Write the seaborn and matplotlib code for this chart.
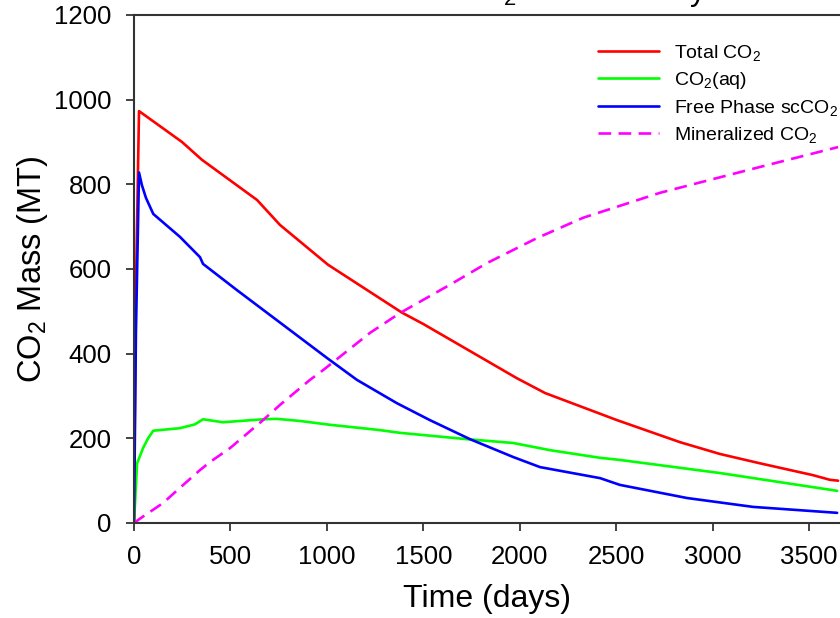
import numpy as np
import pandas as pd
import matplotlib
matplotlib.use("Agg")
import matplotlib.pyplot as plt
import seaborn as sns

# ---- data ----
total_t = [0, 8, 26, 249, 352, 638, 757, 1006, 1389, 1500, 1985, 2131, 2504, 2830, 3038, 3245, 3520, 3608, 3650]
total_v = [0, 500, 973, 900, 858, 763, 704, 610, 497, 470, 342, 307, 243, 191, 163, 141, 113, 102, 100]

aq_t = [0, 16, 47, 73, 100, 238, 316, 358, 461, 669, 741, 861, 1016, 1120, 1265, 1379, 1726, 1966, 2157, 2416, 2519, 3038, 3645]
aq_v = [0, 141, 177, 200, 218, 224, 233, 245, 238, 245, 246, 241, 232, 227, 220, 213, 198, 189, 172, 154, 149, 118, 76]

free_t = [0, 10, 26, 41, 62, 100, 238, 342, 358, 534, 1000, 1156, 1363, 1534, 1742, 1965, 2105, 2416, 2519, 2867, 3210, 3645]
free_v = [0, 450, 828, 798, 768, 730, 676, 628, 612, 550, 390, 338, 283, 243, 198, 156, 132, 106, 90, 59, 38, 24]

min_t = [0, 30, 150, 238, 342, 394, 498, 669, 757, 912, 980, 1223, 1379, 1654, 1830, 2089, 2328, 2727, 3245, 3650]
min_v = [0, 10, 47, 83, 125, 144, 177, 243, 279, 338, 361, 449, 496, 567, 614, 673, 721, 780, 841, 888]

series_names = ["Total CO$_2$", "CO$_2$(aq)", "Free Phase scCO$_2$", "Mineralized CO$_2$"]
x_ticks = [0, 500, 1000, 1500, 2000, 2500, 3000, 3500]
y_ticks = [0, 200, 400, 600, 800, 1000, 1200]

# ---- build long table ----
frames = []
for name, t, v in zip(series_names, [total_t, aq_t, free_t, min_t], [total_v, aq_v, free_v, min_v]):
    frames.append(pd.DataFrame({"t": t, "v": v, "series": name, "order": np.arange(len(t))}))
df = pd.concat(frames, ignore_index=True)

sns.set_theme(style="ticks")
plt.rcParams["font.family"] = ["Liberation Sans", "DejaVu Sans"]
plt.rcParams["mathtext.fontset"] = "custom"
plt.rcParams["mathtext.rm"] = "Liberation Sans"
plt.rcParams["mathtext.it"] = "Liberation Sans"
plt.rcParams["mathtext.default"] = "regular"
plt.rcParams["text.color"] = "black"
plt.rcParams["axes.labelcolor"] = "black"
plt.rcParams["xtick.color"] = "black"
plt.rcParams["ytick.color"] = "black"

W, H = 840, 618
fig = plt.figure(figsize=(W / 100, H / 100), dpi=100)
ax = fig.add_axes([134 / W, (H - 523) / H, (W - 134) / W, (523 - 15) / H])

palette = {series_names[0]: "#FF0000", series_names[1]: "#00FF00",
           series_names[2]: "#0000FF", series_names[3]: "#FF00FF"}
dashes = {series_names[0]: "", series_names[1]: "", series_names[2]: "",
          series_names[3]: (4.8, 2.8)}

sns.lineplot(data=df, x="t", y="v", hue="series", style="series",
             palette=palette, dashes=dashes, sort=False, estimator=None,
             linewidth=1.9, ax=ax, legend=True)

ax.set_xlim(0, 3660)
ax.set_ylim(0, 1200)
ax.set_xticks(x_ticks)
ax.set_yticks(y_ticks)
ax.tick_params(axis="both", labelsize=18.5, length=6, width=1.2, direction="out",
               color="#222222", labelcolor="black")
ax.tick_params(axis="y", pad=10)
ax.tick_params(axis="x", pad=10)

for s in ["left", "bottom", "top"]:
    ax.spines[s].set_visible(True)
    ax.spines[s].set_color("#333333")
    ax.spines[s].set_linewidth(1.5)
ax.spines["right"].set_visible(False)

ax.set_xlabel("Time (days)", fontsize=23, labelpad=11)
ax.set_ylabel("CO$_2$ Mass (MT)", fontsize=23.5, labelpad=3)

handles, labels = ax.get_legend_handles_labels()
hl = [(h, l) for h, l in zip(handles, labels) if l in series_names]
leg = ax.legend([h for h, _ in hl], [l for _, l in hl], loc="upper left",
                bbox_to_anchor=(598 / W, 1 - 43 / H), bbox_transform=fig.transFigure,
                frameon=False, fontsize=14, handlelength=3.15, handletextpad=0.75,
                labelspacing=0.36, borderaxespad=0, borderpad=0)

fig.text(456 / W, 1.0, "CO$_2$ Mass History", fontsize=22.5, ha="left", va="baseline")

fig.savefig("out.png", dpi=100)
